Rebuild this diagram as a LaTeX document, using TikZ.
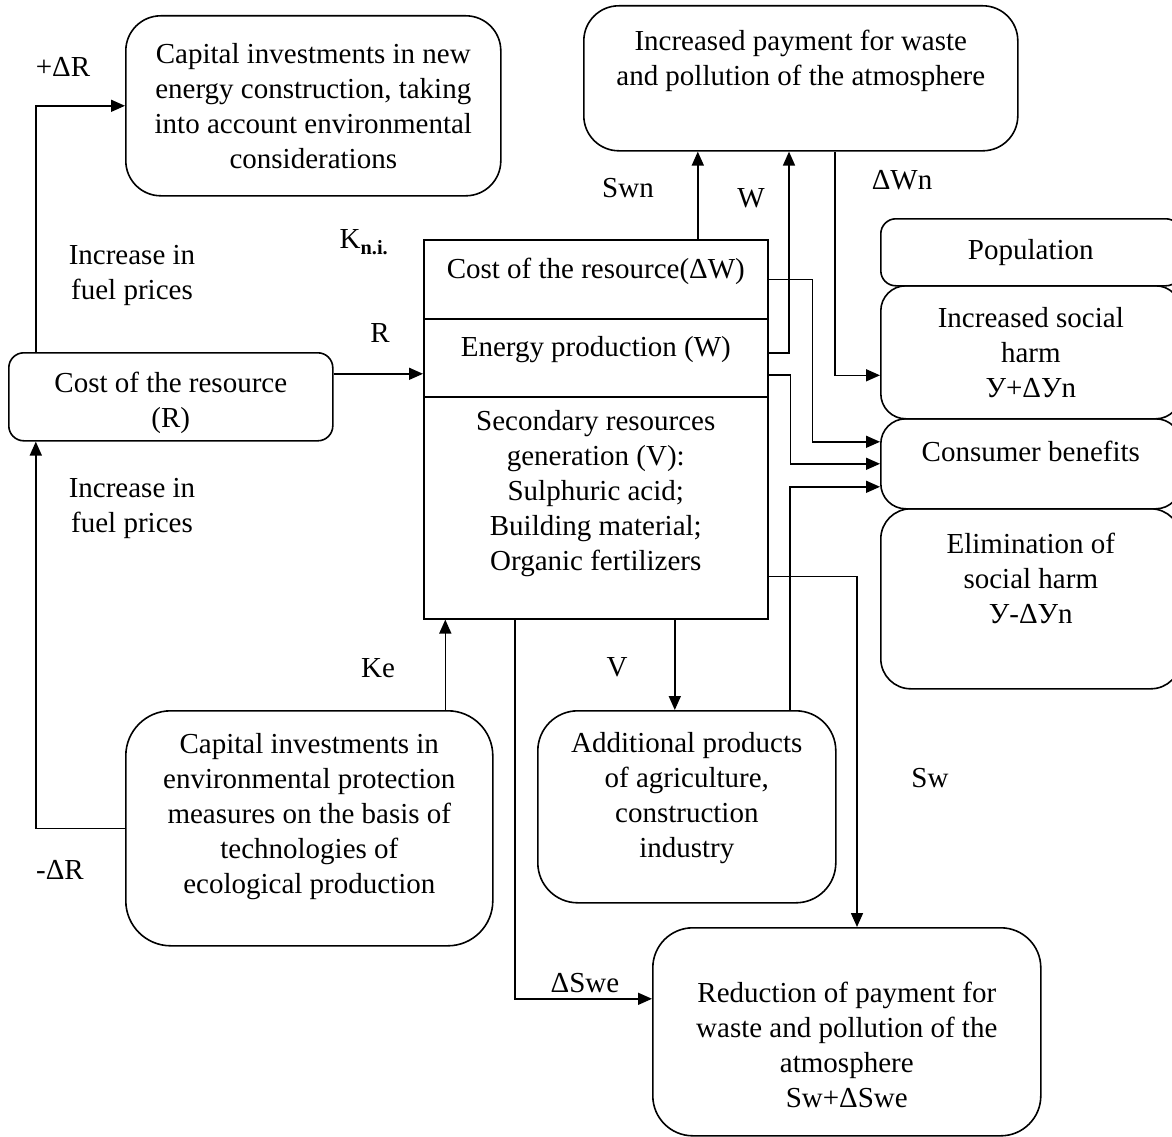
\documentclass[tikz,border=0pt]{standalone}
\usepackage{fontspec}
\setmainfont{Liberation Serif}
\usepackage{tikz}
\usetikzlibrary{arrows.meta}
\tikzset{
  box/.style={rectangle, draw=black, line width=1.6pt, rounded corners=30pt, align=center, anchor=north west, inner sep=2pt},
  cell/.style={rectangle, draw=black, line width=1.6pt, align=center, anchor=north west, inner sep=2pt, minimum width=344pt},
  arr/.style={draw=black, line width=1.6pt, -{Triangle[length=14pt,width=12pt]}},
  lbl/.style={inner sep=0pt},
}

\begin{document}
\begin{tikzpicture}[x=1pt, y=-1pt, font=\fontsize{29}{35}\selectfont]

\useasboundingbox (0,0) rectangle (1172,1137);
\clip (0,0) rectangle (1172,1137);

% boxes
\node at (125,15) [box, minimum width=375pt, minimum height=180pt, rounded corners=35pt] (newcap) {Capital investments in new\\energy construction, taking\\into account environmental\\considerations};
\node at (583,5) [box, minimum width=434pt, minimum height=145pt, rounded corners=35pt] (pay) {Increased payment for waste\\and pollution of the atmosphere\\[-5pt]\strut};

\node at (880,218) [box, minimum width=300pt, minimum height=67pt, rounded corners=15pt] (popul) {Population};
\node at (880,285) [box, minimum width=300pt, minimum height=133pt, rounded corners=25pt] (harmup) {Increased social\\harm\\У+ΔУn};
\node at (880,418) [box, minimum width=300pt, minimum height=90pt, rounded corners=25pt] (benefit) {Consumer benefits\\[-20pt]\strut};
\node at (880,508) [box, minimum width=300pt, minimum height=180pt, rounded corners=30pt] (harmdown) {Elimination of\\social harm\\У-ΔУn\\[-5pt]\strut};

\node at (8,352) [box, minimum width=324pt, minimum height=88pt, rounded corners=15pt] (resR) {\strut\\[-27pt]Cost of the resource\\(R)};

\node at (423,239) [cell, minimum height=79pt] (mainA) {Cost of the resource(ΔW)\\[-24pt]\strut};
\node at (423,318) [cell, minimum height=78pt] (mainB) {Energy production (W)\\[-22pt]\strut};
\node at (423,396) [cell, minimum height=222pt] (mainC) {Secondary resources\\generation (V):\\Sulphuric acid;\\Building material;\\Organic fertilizers\\[-10pt]\strut};

\node at (125,710) [box, minimum width=367pt, minimum height=235pt, rounded corners=45pt] (envcap) {Capital investments in\\environmental protection\\measures on the basis of\\technologies of\\ecological production\\[-15pt]\strut};
\node at (537,710) [box, minimum width=298pt, minimum height=192pt, rounded corners=40pt] (addprod) {Additional products\\of agriculture,\\construction\\industry\\[-22pt]\strut};
\node at (652,927) [box, minimum width=388pt, minimum height=208pt, rounded corners=40pt] (reduce) {\strut\\[-12pt]Reduction of payment for\\waste and pollution of the\\atmosphere\\Sw+ΔSwe};

% labels
\node at (63,67) [lbl] (dRplus) {+ΔR};
\node at (132,275) [lbl, align=center] (fuelup) {Increase in\\fuel prices};
\node at (364,242) [lbl] (kni) {K\textsubscript{\bfseries n.i.}};
\node at (380,333) [lbl] (rlab) {R};
\node at (132,508) [lbl, align=center] (fueldown) {Increase in\\fuel prices};
\node at (60,870) [lbl] (dRminus) {-ΔR};
\node at (378,668) [lbl] (kelab) {Ke};
\node at (617,667) [lbl] (vlab) {V};
\node at (628,188) [lbl] (swnlab) {Swn};
\node at (751,198) [lbl] (wlab) {W};
\node at (902,180) [lbl] (dwnlab) {ΔWn};
\node at (930,778) [lbl] (swlab) {Sw};
\node at (585,983) [lbl] (dswelab) {ΔSwe};

% left loop
\draw[arr] ([xshift=-135pt]resR.north) |- (newcap.west);
\draw[arr] (envcap.west) -| ([xshift=-135pt]resR.south);
\coordinate (rout) at ([yshift=23pt]resR.east);
\draw[arr] (rout) -- (rout -| mainB.west);
\coordinate (keup) at ([xshift=136pt]envcap.north);
\draw[arr] (keup) -- (keup |- mainC.south);

% upper outputs
\coordinate (swnout) at ([xshift=102pt]mainA.north);
\draw[arr] (swnout) -- (swnout |- pay.south);
\draw[arr] ([yshift=5pt]mainB.east) -| ([xshift=206pt]pay.south west);
\draw[arr] ([xshift=252pt]pay.south west) |- ([yshift=-23pt]harmup.west);

% consumer benefits
\draw[arr] (mainA.east) -- ++(44,0) |- ([yshift=22pt]benefit.west);
\draw[arr] ([yshift=-17pt]mainB.east) -- ++(22,0) |- (benefit.west);
\draw[arr] ([xshift=103pt]addprod.north) |- ([yshift=-23pt]benefit.west);

% lower outputs
\draw[arr] ([yshift=43pt]mainC.south east) -| ([xshift=205pt]reduce.north west);
\coordinate (vout) at ([xshift=79pt]mainC.south);
\draw[arr] (vout) -- (vout |- addprod.north);
\draw[arr] ([xshift=-81pt]mainC.south) |- ([yshift=33pt]reduce.west);

\end{tikzpicture}
\end{document}
